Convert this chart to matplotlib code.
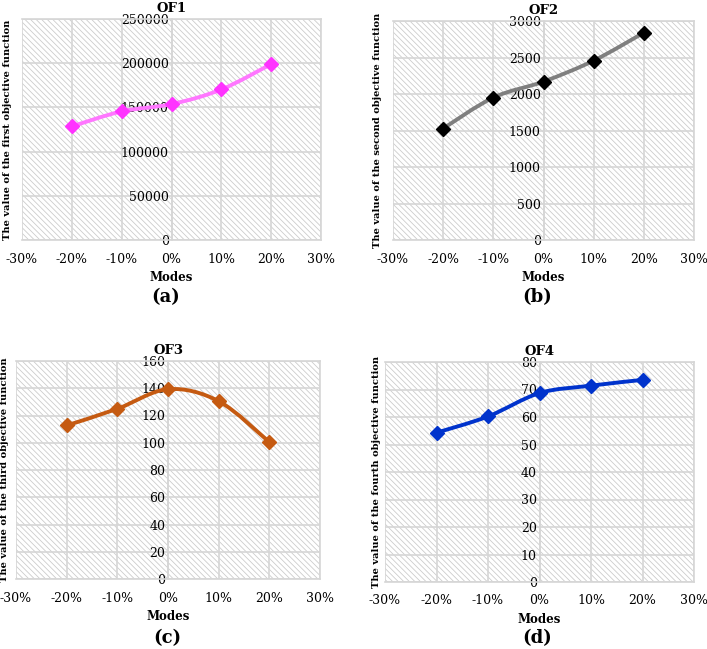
import numpy as np
import matplotlib
matplotlib.use("Agg")
import matplotlib.pyplot as plt
from matplotlib.path import Path
from matplotlib.patches import PathPatch, Rectangle

plt.rcParams['font.family'] = 'DejaVu Serif'
plt.rcParams['hatch.linewidth'] = 0.6
plt.rcParams['hatch.color'] = '#cccccc'

modes = [-20, -10, 0, 10, 20]
of1 = [128500, 145500, 153700, 170300, 199000]
of2 = [1527, 1951, 2170, 2457, 2840]
of3 = [112.7, 124.9, 139.3, 130.5, 100.5]
of4 = [54.3, 60.2, 68.7, 71.4, 73.5]

titles = ['OF1', 'OF2', 'OF3', 'OF4']
ylabels = ['The value of the first objective function',
           'The value of the second objective function',
           'The value of the third objective function',
           'The value of the fourth objective function']
panel_tags = ['(a)', '(b)', '(c)', '(d)']
ymax = [250000, 3000, 160, 80]
ystep = [50000, 500, 20, 10]
line_colors = ['#ff77ff', '#7f7f7f', '#c55a11', '#0033cc']
marker_colors = ['#ff33ff', '#000000', '#c55a11', '#0033cc']

W, H = 707, 649
fig = plt.figure(figsize=(W / 100, H / 100), dpi=100)

# axes boxes in pixels: left, top, right, bottom
boxes = [(22, 19, 321, 240), (393, 21, 694, 240),
         (16, 361, 320, 579), (385, 362, 694, 582)]
ylab_x = [8, 378, 5, 376]
tag_pos = [(166, 297), (537, 297), (167, 638), (537, 638)]


def smooth_path(xs, ys):
    # excel-like smoothed line: catmull-rom as cubic bezier
    pts = np.column_stack([xs, ys]).astype(float)
    verts = [pts[0]]
    codes = [Path.MOVETO]
    n = len(pts)
    for i in range(n - 1):
        p0 = pts[i - 1] if i > 0 else pts[i]
        p1 = pts[i]
        p2 = pts[i + 1]
        p3 = pts[i + 2] if i + 2 < n else pts[i + 1]
        c1 = p1 + (p2 - p0) / 6.0
        c2 = p2 - (p3 - p1) / 6.0
        verts += [c1, c2, p2]
        codes += [Path.CURVE4] * 3
    return Path(verts, codes)


for k, vals in enumerate([of1, of2, of3, of4]):
    l, t, r, b = boxes[k]
    ax = fig.add_axes([l / W, 1 - b / H, (r - l) / W, (b - t) / H])
    ax.set_xlim(-30, 30)
    ax.set_ylim(0, ymax[k])
    ax.add_patch(Rectangle((0, 0), 1, 1, transform=ax.transAxes,
                           facecolor='white', edgecolor='#cccccc',
                           hatch='\\\\\\\\\\\\', linewidth=0, zorder=0))
    ax.set_xticks(np.arange(-30, 31, 10))
    ax.set_xticklabels(['%d%%' % v for v in np.arange(-30, 31, 10)])
    ax.set_yticks(np.arange(0, ymax[k] + 1, ystep[k]))
    ax.grid(True, color='#d6d6d6', linewidth=1.2, zorder=1)
    ax.set_axisbelow(True)
    for s in ax.spines.values():
        s.set_color('#d6d6d6')
        s.set_linewidth(1.2)
    ax.spines['left'].set_position(('data', 0))
    ax.tick_params(length=0, labelsize=9)
    ax.tick_params(axis='x', pad=9)
    ax.tick_params(axis='y', pad=2)

    ax.add_patch(PathPatch(smooth_path(modes, vals), facecolor='none',
                           edgecolor=line_colors[k], linewidth=2.8,
                           zorder=3, capstyle='round'))
    ax.plot(modes, vals, linestyle='none', marker='D', markersize=7,
            color=marker_colors[k], zorder=4)

    ax.set_title(titles[k], fontsize=9.5, fontweight='bold', pad=5)
    ax.set_xlabel('Modes', fontsize=8.5, fontweight='bold', labelpad=4)
    fig.text(ylab_x[k] / W, 1 - (t + b) / 2 / H, ylabels[k], rotation=90,
             fontsize=7.1, fontweight='bold', ha='center', va='center')
    fig.text(tag_pos[k][0] / W, 1 - tag_pos[k][1] / H, panel_tags[k],
             fontsize=13, fontweight='bold', ha='center', va='center')

fig.savefig('out.png', dpi=100)
